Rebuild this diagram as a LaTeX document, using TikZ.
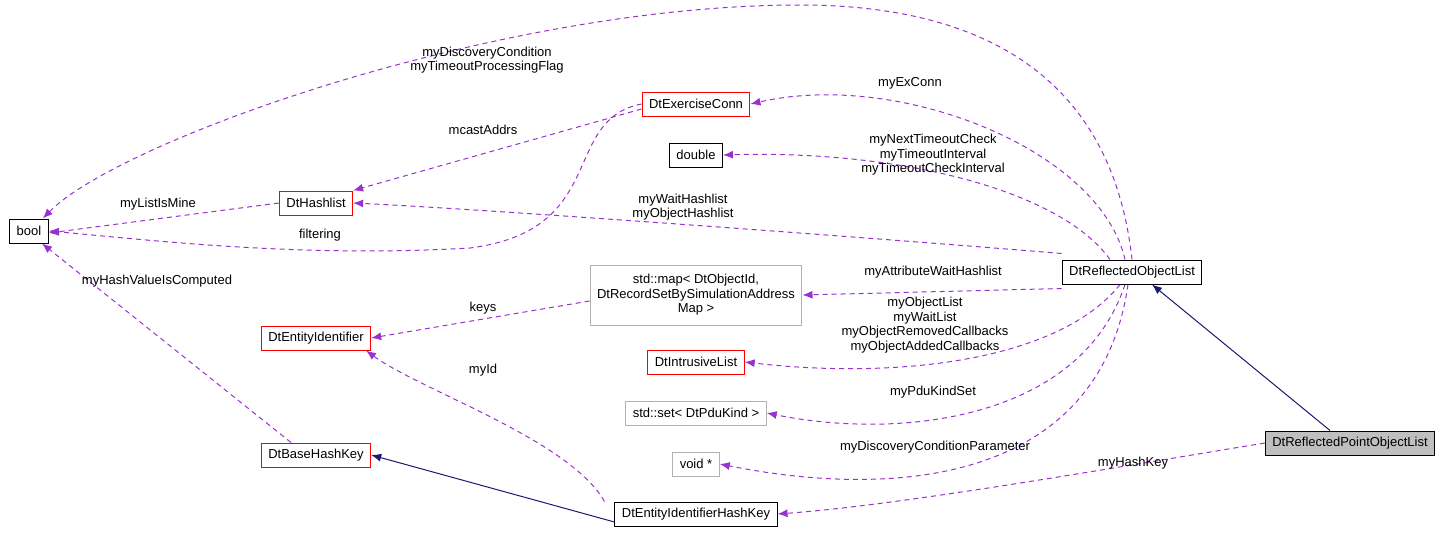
\documentclass[tikz,border=0pt]{standalone}
\usepackage{fontspec}
\setmainfont{Liberation Sans}
\usetikzlibrary{arrows.meta}
\pgfdeclarelayer{edgelayer}
\pgfdeclarelayer{nodelayer}
\pgfsetlayers{edgelayer,nodelayer,main}
\definecolor{usecolor}{RGB}{153,50,204}
\definecolor{inheritcolor}{RGB}{25,25,112}
\tikzstyle{none}=[inner sep=0pt,align=center,font=\fontsize{13}{14.5}\selectfont]
\tikzstyle{classbox}=[draw=black,fill=white,line width=1pt,inner xsep=7pt,minimum height=24pt,font=\fontsize{13}{14.5}\selectfont,align=center]
\tikzstyle{undocbox}=[classbox,draw=red]
\tikzstyle{extbox}=[classbox,draw=black!30]
\tikzstyle{mainbox}=[classbox,fill=black!25]
\tikzstyle{usage}=[-{Latex[length=10pt,width=8pt]},draw=usecolor,line width=1pt,dash pattern=on 5pt off 4pt]
\tikzstyle{inherit}=[-{Latex[length=10pt,width=8pt]},draw=inheritcolor,line width=1pt]

\begin{document}
\begin{tikzpicture}[x=1pt,y=-1pt]
	\useasboundingbox (0,0) rectangle (1445,535);
	\begin{pgfonlayer}{nodelayer}
		\node [style=classbox] (bool) at (29,231) {bool};
		\node [style=undocbox] (hashlist) at (316,203) {DtHashlist};
		\node [style=undocbox] (exconn) at (696,104) {DtExerciseConn};
		\node [style=classbox] (double) at (696,155) {double};
		\node [style=extbox, minimum height=60pt] (map) at (696,295) {std::map\textless{} DtObjectId,\\DtRecordSetBySimulationAddress\\Map \textgreater};
		\node [style=undocbox] (entityid) at (316,338) {DtEntityIdentifier};
		\node [style=undocbox] (intrusive) at (696,362) {DtIntrusiveList};
		\node [style=extbox] (pduset) at (696,413) {std::set\textless{} DtPduKind \textgreater};
		\node [style=extbox] (voidptr) at (696,464) {void *};
		\node [style=undocbox] (basekey) at (316,455) {DtBaseHashKey};
		\node [style=classbox] (entitykey) at (696,514) {DtEntityIdentifierHashKey};
		\node [style=classbox] (objlist) at (1132,272) {DtReflectedObjectList};
		\node [style=mainbox] (pointlist) at (1350,443) {DtReflectedPointObjectList};
		\node [style=none] (l0) at (487,60) {myDiscoveryCondition\\myTimeoutProcessingFlag};
		\node [style=none] (l1) at (910,83) {myExConn};
		\node [style=none] (l2) at (933,155) {myNextTimeoutCheck\\myTimeoutInterval\\myTimeoutCheckInterval};
		\node [style=none] (l3) at (683,207) {myWaitHashlist\\myObjectHashlist};
		\node [style=none] (l4) at (933,272) {myAttributeWaitHashlist};
		\node [style=none] (l5) at (925,325) {myObjectList\\myWaitList\\myObjectRemovedCallbacks\\myObjectAddedCallbacks};
		\node [style=none] (l6) at (933,392) {myPduKindSet};
		\node [style=none] (l7) at (935,447) {myDiscoveryConditionParameter};
		\node [style=none] (l8) at (483,130) {mcastAddrs};
		\node [style=none] (l9) at (320,235) {filtering};
		\node [style=none] (l10) at (158,204) {myListIsMine};
		\node [style=none] (l11) at (483,308) {keys};
		\node [style=none] (l12) at (483,370) {myId};
		\node [style=none] (l13) at (157,281) {myHashValueIsComputed};
		\node [style=none] (l14) at (1133,463) {myHashKey};
	\end{pgfonlayer}
	\begin{pgfonlayer}{edgelayer}
		\draw [style=usage] (objlist.north) .. controls (1110,60) and (960,5) .. (800,5) .. controls (500,5) and (120,140) .. ([xshift=-6pt]bool.north east);
		\draw [style=usage] ([xshift=-7pt]objlist.north) .. controls (1100,150) and (900,70) .. (exconn.east);
		\draw [style=usage] ([xshift=-22pt]objlist.north) .. controls (1060,190) and (900,150) .. (double.east);
		\draw [style=usage] ([yshift=6pt]objlist.north west) .. controls (900,240) and (500,210) .. (hashlist.east);
		\draw [style=usage] ([yshift=-4pt]objlist.south west) -- (map.east);
		\draw [style=usage] ([xshift=-12pt]objlist.south) .. controls (1060,360) and (900,380) .. (intrusive.east);
		\draw [style=usage] ([xshift=-7pt]objlist.south) .. controls (1080,420) and (900,440) .. (pduset.east);
		\draw [style=usage] ([xshift=-4pt]objlist.south) .. controls (1100,480) and (900,500) .. (voidptr.east);
		\draw [style=usage] ([yshift=-5pt]exconn.west) -- (hashlist.north east);
		\draw [style=usage] (exconn.west) .. controls (560,120) and (610,230) .. (470,248) .. controls (300,258) and (150,240) .. (bool.east);
		\draw [style=usage] (hashlist.west) -- ([yshift=-2pt]bool.east);
		\draw [style=usage] ([yshift=-6pt]map.west) -- (entityid.east);
		\draw [style=usage] ([xshift=-10pt]entitykey.north west) .. controls (570,440) and (420,390) .. ([xshift=50pt]entityid.south);
		\draw [style=usage] ([xshift=-25pt]basekey.north) -- ([xshift=13pt]bool.south);
		\draw [style=usage] (pointlist.west) .. controls (1100,470) and (900,505) .. (entitykey.east);
		\draw [style=inherit] ([yshift=-8pt]entitykey.west) -- (basekey.east);
		\draw [style=inherit] ([xshift=-20pt]pointlist.north) -- ([xshift=20pt]objlist.south);
	\end{pgfonlayer}
\end{tikzpicture}
\end{document}
